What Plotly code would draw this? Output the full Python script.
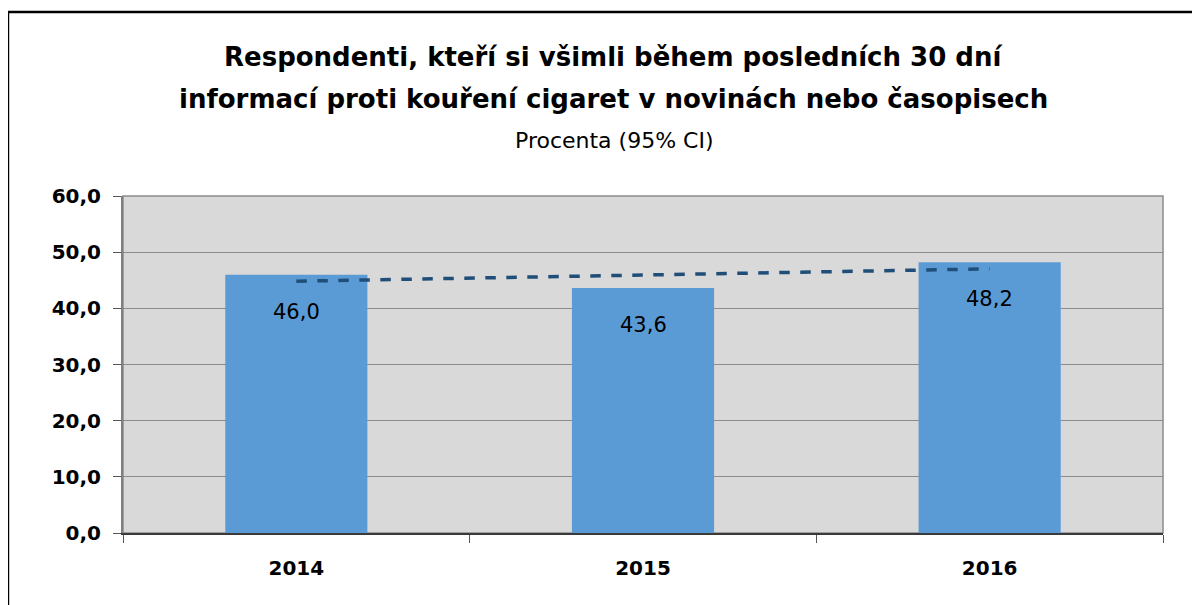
import numpy as np
import plotly.graph_objects as go

years = ["2014", "2015", "2016"]
values = [46.0, 43.6, 48.2]
y_ticks = [0, 10, 20, 30, 40, 50, 60]

title_line1 = "Respondenti, kteří si všimli během posledních 30 dní"
title_line2 = "informací proti kouření cigaret v novinách nebo časopisech"
subtitle = "Procenta (95% CI)"

# linear trendline computed from the data
xi = np.arange(len(values))
slope, intercept = np.polyfit(xi, values, 1)
trend = list(intercept + slope * xi)

FONT = "DejaVu Sans"

fig = go.Figure()
fig.add_trace(go.Bar(
    x=years, y=values, marker=dict(color="#5B9BD5", line=dict(width=0)),
    width=0.41, showlegend=False, hoverinfo="skip",
))
fig.add_trace(go.Scatter(
    x=years, y=trend, mode="lines",
    line=dict(color="#1F4E79", width=3.5, dash="dash"),
    showlegend=False, hoverinfo="skip",
))

for i, v in enumerate(values):
    fig.add_annotation(
        x=i, y=v, text=f"{v:.1f}".replace(".", ","), showarrow=False,
        yanchor="middle", yshift=-37,
        font=dict(family=FONT, size=21, color="#000000"),
    )

for txt, ys, sz, bold in [(title_line1, 139, 26, True), (title_line2, 97, 26, True),
                          (subtitle, 56, 22, False)]:
    fig.add_annotation(
        xref="paper", yref="paper", x=0.472, y=1.0, yshift=ys,
        text=f"<b>{txt}</b>" if bold else txt,
        showarrow=False, xanchor="center", yanchor="middle",
        font=dict(family=FONT, size=sz, color="#000000"),
    )

# chart outer border (partially cropped in the reference)
fig.add_shape(
    type="rect", xref="paper", yref="paper",
    x0=-0.1106, x1=1.2, y0=-0.6, y1=1.546,
    line=dict(color="#000000", width=2.5), fillcolor="rgba(0,0,0,0)", layer="above",
)

fig.update_layout(
    width=1192, height=597,
    margin=dict(l=115, r=37, t=188, b=72),
    paper_bgcolor="#FFFFFF", plot_bgcolor="#D9D9D9",
    separators=", ",
    font=dict(family=FONT, color="#000000"),
    xaxis=dict(
        type="category", showgrid=False,
        showline=True, linecolor="#3a3a3a", linewidth=2, mirror=False,
        ticks="outside", tickson="boundaries", ticklen=8, tickcolor="#555555",
        ticklabelstandoff=16,
        tickfont=dict(family=FONT, size=20, color="#000000", weight="bold"),
        range=[-0.5, 2.5],
    ),
    yaxis=dict(
        range=[0, 60], tickvals=y_ticks, tickformat=".1f",
        showgrid=True, gridcolor="#8C8C8C", gridwidth=1,
        showline=True, linecolor="#7F7F7F", linewidth=2,
        ticks="outside", ticklen=8, tickcolor="#555555",
        ticklabelstandoff=8,
        tickfont=dict(family=FONT, size=20, color="#000000", weight="bold"),
        zeroline=False,
    ),
)
# plot area border
fig.add_shape(type="rect", xref="paper", yref="paper", x0=0, x1=1, y0=0, y1=1,
              line=dict(color="#8C8C8C", width=1.5), fillcolor="rgba(0,0,0,0)", layer="below")

fig.write_html("out.html")
